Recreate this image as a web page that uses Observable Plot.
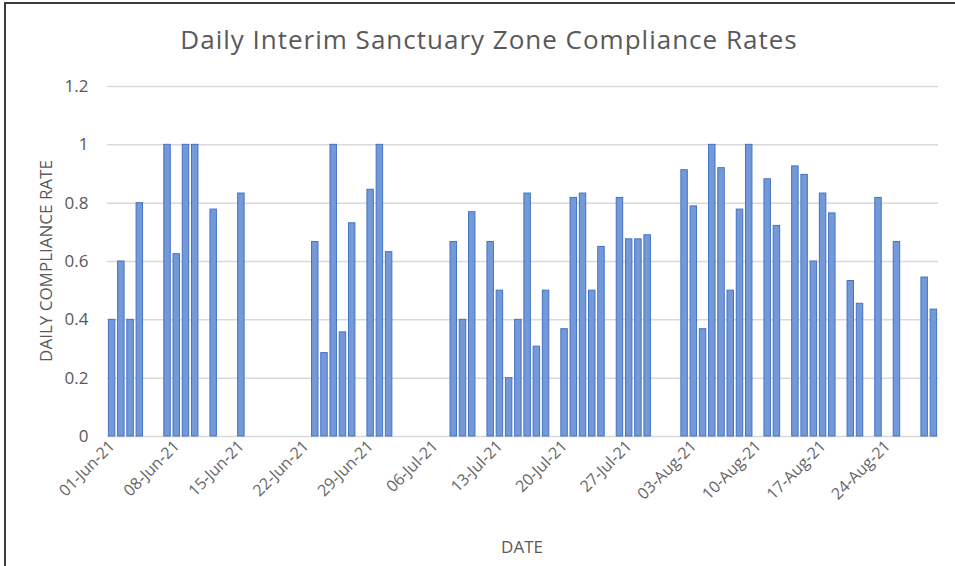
<!DOCTYPE html>
<html><head><meta charset="utf-8">
<script src="https://cdn.jsdelivr.net/npm/d3@7"></script>
<script src="https://cdn.jsdelivr.net/npm/@observablehq/plot@0.6"></script>
<style>
body{margin:0;background:#fff;}
#wrap{position:relative;width:955px;height:566px;overflow:hidden;background:#fff;font-family:"Open Sans",sans-serif;}
#frame{position:absolute;left:4px;top:2px;width:1100px;height:700px;border:2px solid #3c3c3c;box-sizing:border-box;}
#title{position:absolute;left:489px;top:26px;transform:translateX(-50%);white-space:nowrap;font-size:26px;letter-spacing:1px;color:#595959;line-height:1;}
#ytitle{position:absolute;left:45px;top:261px;transform:translate(-50%,-50%) rotate(-90deg);white-space:nowrap;font-size:17px;color:#595959;}
#xtitle{position:absolute;left:522px;top:546px;transform:translate(-50%,-50%);font-size:17px;color:#595959;}
#chart{position:absolute;left:0;top:0;}
</style></head>
<body>
<div id="wrap">
  <div id="frame"></div>
  <div id="chart"></div>
  <div id="title">Daily Interim Sanctuary Zone Compliance Rates</div>
  <div id="ytitle">DAILY COMPLIANCE RATE</div>
  <div id="xtitle">DATE</div>
</div>
<script>
const dates = ["2021-06-01","2021-06-02","2021-06-03","2021-06-04","2021-06-07","2021-06-08","2021-06-09","2021-06-10","2021-06-12","2021-06-15",
  "2021-06-23","2021-06-24","2021-06-25","2021-06-26","2021-06-27","2021-06-29","2021-06-30","2021-07-01",
  "2021-07-08","2021-07-09","2021-07-10","2021-07-12","2021-07-13","2021-07-14","2021-07-15","2021-07-16","2021-07-17","2021-07-18",
  "2021-07-20","2021-07-21","2021-07-22","2021-07-23","2021-07-24","2021-07-26","2021-07-27","2021-07-28","2021-07-29",
  "2021-08-02","2021-08-03","2021-08-04","2021-08-05","2021-08-06","2021-08-07","2021-08-08","2021-08-09",
  "2021-08-11","2021-08-12","2021-08-14","2021-08-15","2021-08-16","2021-08-17","2021-08-18",
  "2021-08-20","2021-08-21","2021-08-23","2021-08-25","2021-08-28","2021-08-29"];
const rates = [0.4,0.6,0.4,0.8,1,0.625,1,1,0.778,0.833,
  0.667,0.286,1,0.357,0.731,0.846,1,0.632,
  0.667,0.4,0.769,0.667,0.5,0.2,0.4,0.833,0.308,0.5,
  0.368,0.818,0.833,0.5,0.65,0.818,0.676,0.676,0.69,
  0.913,0.789,0.368,1,0.92,0.5,0.778,1,
  0.882,0.722,0.926,0.897,0.6,0.833,0.765,
  0.533,0.455,0.818,0.667,0.545,0.435];
const firstDay = "2021-06-01";
const lastDay = "2021-08-29";
const tickDates = ["2021-06-01","2021-06-08","2021-06-15","2021-06-22","2021-06-29","2021-07-06","2021-07-13","2021-07-20","2021-07-27","2021-08-03","2021-08-10","2021-08-17","2021-08-24"];
const tickLabels = ["01-Jun-21","08-Jun-21","15-Jun-21","22-Jun-21","29-Jun-21","06-Jul-21","13-Jul-21","20-Jul-21","27-Jul-21","03-Aug-21","10-Aug-21","17-Aug-21","24-Aug-21"];
const yTicks = [0,0.2,0.4,0.6,0.8,1,1.2];

const fmt = d3.utcFormat("%Y-%m-%d");
const allDays = d3.utcDay.range(new Date(firstDay), d3.utcDay.offset(new Date(lastDay), 1)).map(fmt);
const rows = dates.map((d,i)=>({date:d, rate:rates[i]}));

const chart = Plot.plot({
  width:955, height:566,
  marginLeft:107, marginRight:17, marginTop:86, marginBottom:130,
  style:{fontFamily:"'Open Sans', sans-serif", fontSize:"17px", color:"#595959", background:"transparent", overflow:"visible"},
  x:{type:"band", domain:allDays, paddingInner:0.3, paddingOuter:0.15, align:0.5, round:false, label:null},
  y:{domain:[0,1.2], label:null},
  marks:[
    Plot.gridY(yTicks, {stroke:"#d9d9d9", strokeOpacity:1, strokeWidth:1.5}),
    Plot.axisY(yTicks, {tickSize:0, tickPadding:19, tickFormat:d=>String(d), fill:"#595959", fontSize:17, label:null}),
    Plot.axisX(tickDates, {tickSize:0, tickRotate:-45, tickPadding:7, tickFormat:d=>tickLabels[tickDates.indexOf(d)], fill:"#666666", fontSize:16, label:null}),
    Plot.barY(rows, {x:"date", y:"rate", fill:"#7499d8", stroke:"#4472c4", strokeWidth:1})
  ]
});
document.getElementById("chart").appendChild(chart);
</script>
</body></html>
